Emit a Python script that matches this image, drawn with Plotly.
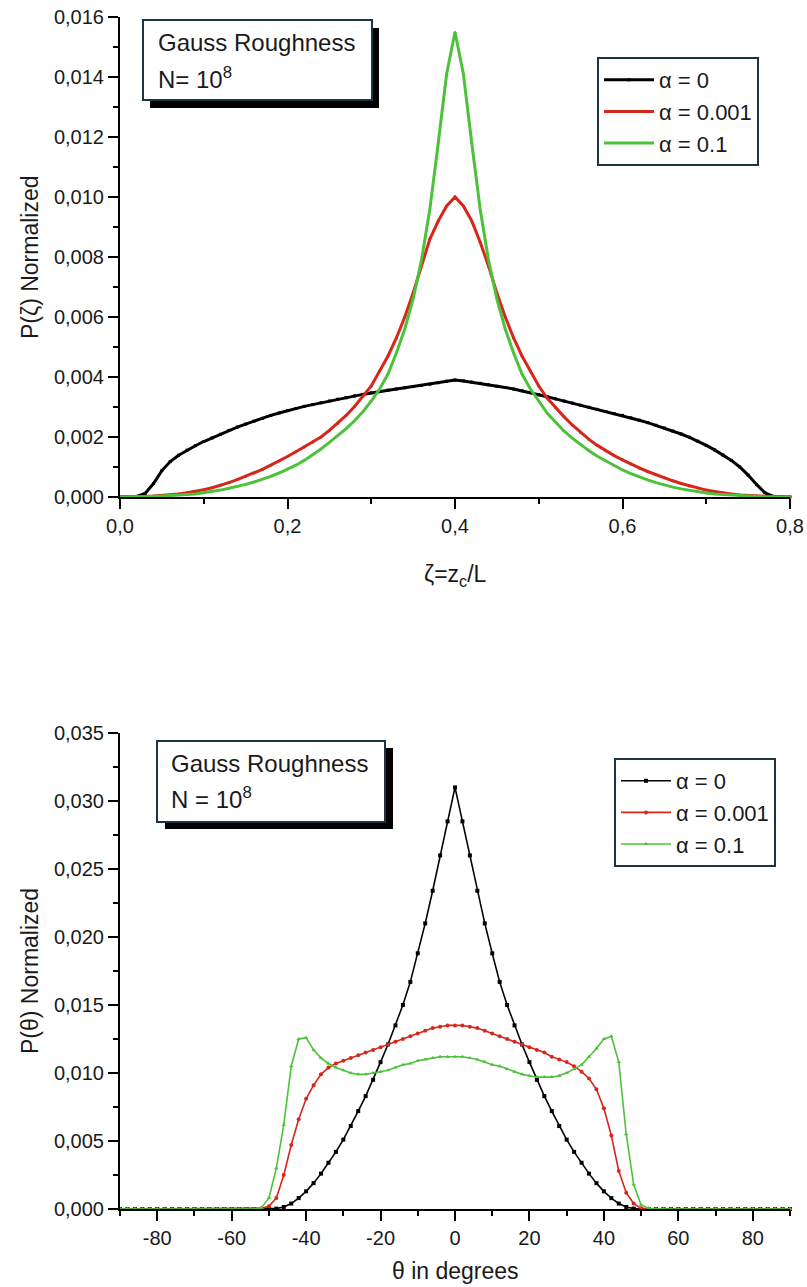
import plotly.graph_objects as go

W, H = 807, 1287

# ---------------- data: top panel (zeta = z_c / L) ----------------
zeta = [round(i * 0.01, 2) for i in range(81)]

p_zeta_a0 = [0, 0, 0.00002, 0.00012, 0.00045, 0.00088, 0.00118, 0.00139, 0.00156, 0.00171,
             0.00185, 0.00197, 0.00209, 0.00222, 0.00233, 0.00243, 0.00253, 0.00262, 0.00272, 0.0028,
             0.00288, 0.00295, 0.00302, 0.00308, 0.00314, 0.0032, 0.00326, 0.00331, 0.00337, 0.00342,
             0.00347, 0.00352, 0.00356, 0.0036, 0.00364, 0.00368, 0.00372, 0.00376, 0.00381, 0.00386,
             0.0039, 0.00387, 0.00383, 0.00379, 0.00374, 0.00369, 0.00365, 0.0036, 0.00354, 0.00348,
             0.00341, 0.00334, 0.00327, 0.0032, 0.00313, 0.00306, 0.00299, 0.00292, 0.00285, 0.00278,
             0.00272, 0.00264, 0.00256, 0.00248, 0.00239, 0.0023, 0.0022, 0.0021, 0.00199, 0.00186,
             0.00172, 0.00157, 0.0014, 0.00122, 0.001, 0.00073, 0.00042, 0.00014, 0.00002, 0, 0]

p_zeta_a0001 = [0, 0, 0.00001, 0.00002, 0.00003, 0.00005, 0.00007, 0.0001, 0.00014, 0.00018,
                0.00024, 0.00031, 0.00039, 0.00048, 0.00058, 0.00069, 0.0008, 0.00092, 0.00106, 0.0012,
                0.00135, 0.00151, 0.00167, 0.00183, 0.002, 0.00222, 0.00246, 0.00272, 0.00302, 0.00335,
                0.0037, 0.0042, 0.0047, 0.0053, 0.006, 0.0068, 0.0077, 0.0086, 0.0092, 0.0097,
                0.0100, 0.0097, 0.0092, 0.0085, 0.0077, 0.0068, 0.006, 0.0053, 0.0047, 0.0042,
                0.0037, 0.0033, 0.00298, 0.00268, 0.0024, 0.00215, 0.00192, 0.00172, 0.00154, 0.00138,
                0.00124, 0.0011, 0.00097, 0.00085, 0.00074, 0.00064, 0.00054, 0.00045, 0.00037, 0.0003,
                0.00023, 0.00018, 0.00013, 0.0001, 0.00007, 0.00005, 0.00003, 0.00002, 0.00001, 0, 0]

p_zeta_a01 = [0, 0, 0.000005, 0.00001, 0.00002, 0.00003, 0.00004, 0.00006, 0.00008, 0.0001,
              0.00014, 0.00018, 0.00023, 0.00029, 0.00035, 0.00042, 0.0005, 0.00059, 0.00069, 0.0008,
              0.00093, 0.00106, 0.00122, 0.0014, 0.0016, 0.00182, 0.00204, 0.00228, 0.00254, 0.00284,
              0.0032, 0.0036, 0.0041, 0.0048, 0.0056, 0.0066, 0.0079, 0.0096, 0.0118, 0.0141,
              0.0155, 0.0141, 0.0118, 0.0096, 0.0079, 0.0066, 0.0056, 0.0048, 0.0041, 0.0036,
              0.0032, 0.0028, 0.0025, 0.0022, 0.00196, 0.00174, 0.00154, 0.00136, 0.0012, 0.00104,
              0.0009, 0.00078, 0.00067, 0.00057, 0.00048, 0.0004, 0.00033, 0.00027, 0.00022, 0.00017,
              0.00013, 0.0001, 0.00008, 0.00006, 0.00004, 0.00003, 0.00002, 0.00001, 0.000005, 0, 0]

zeta_ticks = [0.0, 0.2, 0.4, 0.6, 0.8]

# ---------------- data: bottom panel (theta in degrees) ----------------
theta = list(range(-90, 91, 2))

p_theta_a0 = [0] * 21 + [
    0.00003, 0.00015, 0.0004, 0.0008, 0.0013, 0.0019, 0.0026, 0.0034, 0.0042, 0.0051,
    0.0061, 0.0072, 0.0083, 0.0095, 0.0108, 0.0121, 0.0135, 0.0150, 0.0167, 0.0188,
    0.0210, 0.0234, 0.0260, 0.0285, 0.0310, 0.0285, 0.0260, 0.0234, 0.0210, 0.0188,
    0.0167, 0.0150, 0.0135, 0.0121, 0.0108, 0.0095, 0.0083, 0.0072, 0.0061, 0.0051,
    0.0042, 0.0034, 0.0026, 0.0019, 0.0013, 0.0008, 0.0004, 0.00015, 0.00003] + [0] * 21

p_theta_a0001 = [0] * 19 + [
    0.00005, 0.0002, 0.0008, 0.0025, 0.0047, 0.0066, 0.0081, 0.0091, 0.0099, 0.0104,
    0.0107, 0.0109, 0.0111, 0.0113, 0.0115, 0.0117, 0.0119, 0.0121, 0.0123, 0.0125,
    0.0127, 0.0129, 0.0131, 0.0133, 0.0134, 0.0135, 0.0135, 0.0135, 0.0134, 0.0133,
    0.0131, 0.0129, 0.0127, 0.0125, 0.0123, 0.0121, 0.0119, 0.0117, 0.0115, 0.0112,
    0.0110, 0.0108, 0.0105, 0.0101, 0.0096, 0.0088, 0.0074, 0.0054, 0.0028, 0.0012,
    0.0004, 0.00005] + [0] * 20

p_theta_a01 = [0] * 19 + [
    0.0001, 0.0008, 0.0030, 0.0062, 0.0105, 0.0125, 0.0126, 0.0117, 0.0111, 0.0107,
    0.0104, 0.0102, 0.0100, 0.0099, 0.0099, 0.0100, 0.0101, 0.0102, 0.0104, 0.0106,
    0.0107, 0.0109, 0.0110, 0.0111, 0.0112, 0.0112, 0.0112, 0.0112, 0.0111, 0.0110,
    0.0108, 0.0106, 0.0105, 0.0103, 0.0101, 0.0099, 0.0098, 0.0097, 0.0097, 0.0097,
    0.0098, 0.0100, 0.0103, 0.0106, 0.0112, 0.0118, 0.0125, 0.0127, 0.0108, 0.0055,
    0.0018, 0.0003, 0.00005] + [0] * 19

theta_tickvals = [-80, -60, -40, -20, 0, 20, 40, 60, 80]
theta_ticktext = ["-80", "-60", "-40", "-20", "0", "20", "40", "60", "80"]

series_names = ["α = 0", "α = 0.001", "α = 0.1"]
series_colors = ["#000000", "#d7261c", "#4cc23a"]
series_symbols = ["square", "circle", "triangle-up"]

# ---------------- layout helpers ----------------
FONT = "Liberation Sans, Arial, sans-serif"
TXT = "#1a1a1a"


def fx(px):
    return px / W


def fy(py):
    return 1 - py / H


fig = go.Figure()

top_vals = [p_zeta_a0, p_zeta_a0001, p_zeta_a01]
bot_vals = [p_theta_a0, p_theta_a0001, p_theta_a01]

for name, col, sym, vals in zip(series_names, series_colors, series_symbols, top_vals):
    fig.add_trace(go.Scatter(
        x=zeta, y=vals, name=name, mode="lines+markers",
        line=dict(color=col, width=3), marker=dict(color=col, size=3, symbol=sym),
        xaxis="x", yaxis="y", legend="legend", cliponaxis=False))

for name, col, sym, vals in zip(series_names, series_colors, series_symbols, bot_vals):
    fig.add_trace(go.Scatter(
        x=theta, y=vals, name=name, mode="lines+markers",
        line=dict(color=col, width=1.6), marker=dict(color=col, size=4, symbol=sym),
        xaxis="x2", yaxis="y2", legend="legend2", cliponaxis=False))

axis_common = dict(showline=True, linecolor="black", linewidth=2, ticks="outside",
                   ticklen=10, tickwidth=2, tickcolor="black", showgrid=False, zeroline=False,
                   tickfont=dict(family=FONT, size=20, color=TXT), mirror=False,
                   automargin=False)
minor_common = dict(ticks="outside", ticklen=5, tickwidth=2, tickcolor="black", showgrid=False)

xdom = [fx(120), fx(790)]

legend_common = dict(bgcolor="white", bordercolor="#1e3440", borderwidth=2,
                     font=dict(family=FONT, size=22, color=TXT), xanchor="left", yanchor="top",
                     tracegroupgap=0, itemwidth=50)

fig.update_layout(
    width=W, height=H, margin=dict(l=0, r=0, t=0, b=0, autoexpand=False),
    paper_bgcolor="white", plot_bgcolor="white", separators=",.",
    font=dict(family=FONT, color=TXT),
    xaxis=dict(domain=xdom, range=[0, 0.8], tickmode="array", tickvals=zeta_ticks,
               tickformat=".1f", anchor="y",
               minor=dict(tickmode="linear", tick0=0.1, dtick=0.2, **minor_common), **axis_common),
    yaxis=dict(domain=[fy(497), fy(17)], range=[0, 0.016], tick0=0, dtick=0.002,
               tickformat=".3f", anchor="x",
               minor=dict(tickmode="linear", tick0=0.001, dtick=0.002, **minor_common), **axis_common),
    xaxis2=dict(domain=xdom, range=[-90, 90], tickmode="array", tickvals=theta_tickvals,
                ticktext=theta_ticktext, anchor="y2",
                minor=dict(tickmode="linear", tick0=-90, dtick=20, **minor_common), **axis_common),
    yaxis2=dict(domain=[fy(1209), fy(733)], range=[0, 0.035], tick0=0, dtick=0.005,
                tickformat=".3f", anchor="x2",
                minor=dict(tickmode="linear", tick0=0.0025, dtick=0.005, **minor_common), **axis_common),
    legend=dict(x=fx(597), y=fy(57), **legend_common),
    legend2=dict(x=fx(614), y=fy(758), **legend_common),
)

# annotation boxes with drop shadows
shapes = []
for (x0, y0, x1, y1, sdx, sdy) in [(143, 20, 372, 100, 7, 8), (157, 741, 385, 822, 8, 7)]:
    shapes.append(dict(type="rect", xref="paper", yref="paper",
                       x0=fx(x0 + sdx), x1=fx(x1 + sdx), y0=fy(y1 + sdy), y1=fy(y0 + sdy),
                       fillcolor="black", line=dict(width=0), layer="above"))
    shapes.append(dict(type="rect", xref="paper", yref="paper",
                       x0=fx(x0), x1=fx(x1), y0=fy(y1), y1=fy(y0),
                       fillcolor="white", line=dict(color="#1e3440", width=2), layer="above"))
fig.update_layout(shapes=shapes)

ann = []
box_font = dict(family=FONT, size=24, color=TXT)
ann.append(dict(text="Gauss Roughness", x=fx(156), y=fy(43), xref="paper", yref="paper",
                xanchor="left", yanchor="middle", showarrow=False, font=box_font))
ann.append(dict(text="N= 10<sup>8</sup>", x=fx(156), y=fy(78), xref="paper", yref="paper",
                xanchor="left", yanchor="middle", showarrow=False, font=box_font))
ann.append(dict(text="Gauss Roughness", x=fx(169), y=fy(763), xref="paper", yref="paper",
                xanchor="left", yanchor="middle", showarrow=False, font=box_font))
ann.append(dict(text="N = 10<sup>8</sup>", x=fx(169), y=fy(798), xref="paper", yref="paper",
                xanchor="left", yanchor="middle", showarrow=False, font=box_font))

title_font = dict(family=FONT, size=23, color=TXT)
ann.append(dict(text="ζ=z<sub>c</sub>/L", x=fx(455), y=fy(575), xref="paper", yref="paper",
                xanchor="center", yanchor="middle", showarrow=False, font=title_font))
ann.append(dict(text="θ in degrees", x=fx(455), y=fy(1271), xref="paper", yref="paper",
                xanchor="center", yanchor="middle", showarrow=False, font=title_font))
ann.append(dict(text="P(ζ) Normalized", x=fx(30), y=fy(257), xref="paper", yref="paper",
                xanchor="center", yanchor="middle", showarrow=False, textangle=-90, font=title_font))
ann.append(dict(text="P(θ) Normalized", x=fx(30), y=fy(971), xref="paper", yref="paper",
                xanchor="center", yanchor="middle", showarrow=False, textangle=-90, font=title_font))
fig.update_layout(annotations=ann)

fig.write_html("out.html")
